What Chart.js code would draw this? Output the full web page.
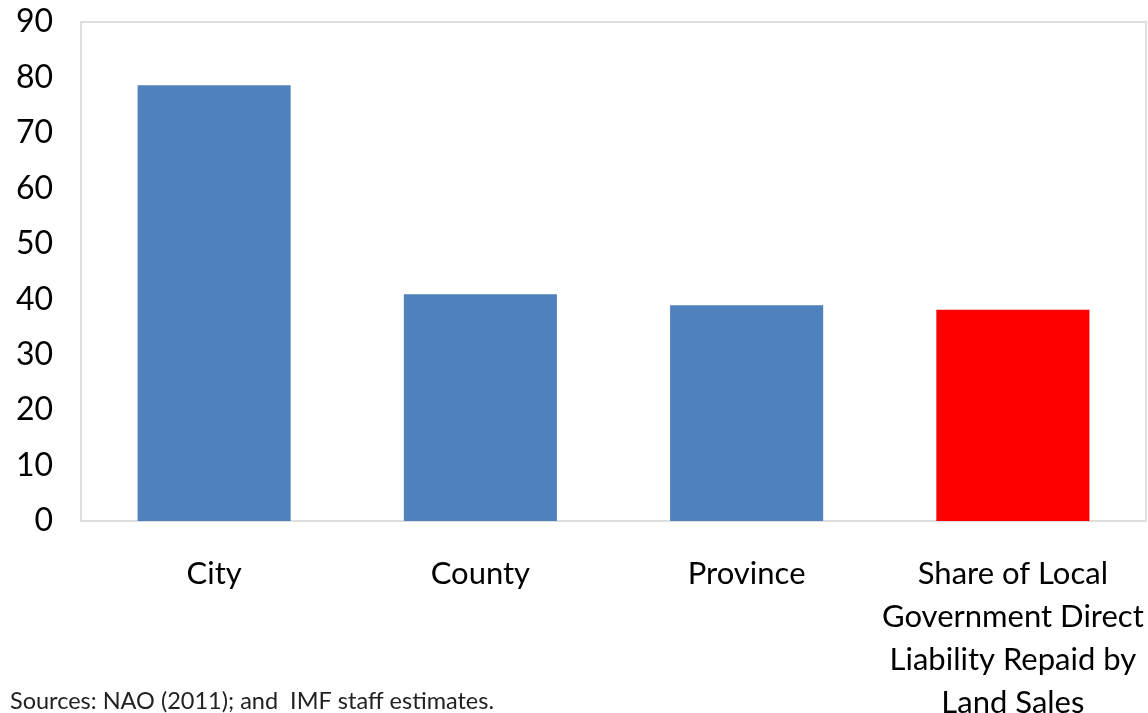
<!DOCTYPE html>
<html>
<head>
<meta charset="utf-8">
<script src="https://cdn.jsdelivr.net/npm/chart.js@4.4.1/dist/chart.umd.min.js"></script>
<style>
  html, body { margin: 0; padding: 0; background: #ffffff; }
  #wrap { width: 1148px; height: 713px; }
</style>
</head>
<body>
<div id="wrap"><canvas id="chart" width="1148" height="713"></canvas></div>
<script>
// Share of debt repaid by land sales, by level of local government (percent)
const categories = [
  ['City'],
  ['County'],
  ['Province'],
  ['Share of Local', 'Government Direct', 'Liability Repaid by', 'Land Sales']
];
const shares = [78.6, 40.9, 38.9, 38.1];
const barColors = ['#4F81BD', '#4F81BD', '#4F81BD', '#FF0000'];
const yTicks = [0, 10, 20, 30, 40, 50, 60, 70, 80, 90];
const sourceNote = 'Sources: NAO (2011); and  IMF staff estimates.';

const FONT = 'Lato, "Open Sans", sans-serif';

// Light frame round the plot area
const plotFrame = {
  id: 'plotFrame',
  beforeDatasetsDraw(chart) {
    const a = chart.chartArea;
    const ctx = chart.ctx;
    ctx.save();
    ctx.strokeStyle = '#dedede';
    ctx.lineWidth = 2;
    ctx.strokeRect(a.left, a.top, a.right - a.left, a.bottom - a.top);
    ctx.restore();
  }
};

// Source line under the chart
const sourceLine = {
  id: 'sourceLine',
  afterDraw(chart) {
    const ctx = chart.ctx;
    ctx.save();
    ctx.font = '23.5px ' + FONT;
    ctx.fillStyle = '#222';
    ctx.textAlign = 'left';
    ctx.textBaseline = 'alphabetic';
    ctx.fillText(sourceNote, 10, 709);
    ctx.restore();
  }
};

new Chart(document.getElementById('chart'), {
  type: 'bar',
  data: {
    labels: categories,
    datasets: [{
      data: shares,
      backgroundColor: barColors,
      borderWidth: 0,
      barPercentage: 0.575,
      categoryPercentage: 1.0
    }]
  },
  options: {
    responsive: false,
    animation: false,
    devicePixelRatio: 1,
    layout: { padding: { left: 0, right: 2, top: 22, bottom: 0 } },
    plugins: {
      legend: { display: false },
      tooltip: { enabled: false }
    },
    scales: {
      y: {
        min: 0,
        max: 90,
        afterBuildTicks(scale) { scale.ticks = yTicks.map(v => ({ value: v })); },
        afterFit(scale) { scale.width = 81; },
        grid: { display: false, drawTicks: true, tickLength: 28 },
        border: { display: false },
        ticks: {
          color: '#000',
          padding: 0,
          font: { family: FONT, size: 32 }
        }
      },
      x: {
        afterFit(scale) { scale.height = 192; },
        grid: { display: false, drawTicks: true, tickLength: 31 },
        border: { display: false },
        ticks: {
          color: '#000',
          padding: 0,
          maxRotation: 0,
          autoSkip: false,
          font: { family: FONT, size: 31, lineHeight: 1.39 }
        }
      }
    }
  },
  plugins: [plotFrame, sourceLine]
});
</script>
</body>
</html>
